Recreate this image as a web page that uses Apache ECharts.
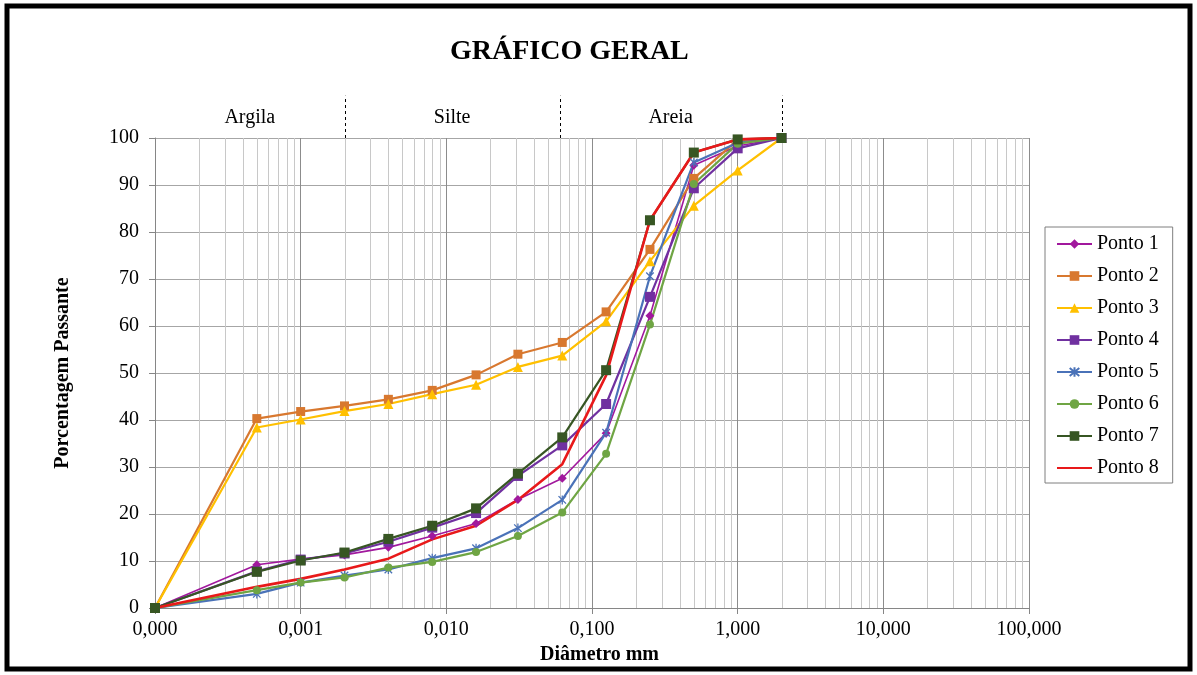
<!DOCTYPE html>
<html>
<head>
<meta charset="utf-8">
<title>Gráfico Geral</title>
<script src="https://cdn.jsdelivr.net/npm/echarts@6/dist/echarts.min.js"></script>
<style>
  html, body { margin: 0; padding: 0; background: #ffffff; }
  #chart { width: 1197px; height: 675px; }
</style>
</head>
<body>
<div id="chart"></div>
<script>
// Particle diameters (mm) of the grain-size analysis
const sizes = [0.0001, 0.0005, 0.001, 0.002, 0.004, 0.008, 0.016, 0.031, 0.0625, 0.125, 0.25, 0.5, 1, 2];

// Percentage passing for each sample point
const ponto1 = [0, 9.2, 10.4, 11.3, 12.9, 15.3, 18.0, 23.1, 27.6, 37.2, 62.2, 94.2, 98.3, 100];
const ponto2 = [0, 40.3, 41.8, 43.0, 44.4, 46.3, 49.6, 54.0, 56.5, 63.0, 76.3, 91.4, 99.6, 100];
const ponto3 = [0, 38.4, 40.1, 41.9, 43.4, 45.5, 47.5, 51.3, 53.7, 61.0, 73.8, 85.6, 93.1, 100];
const ponto4 = [0, 7.8, 10.3, 11.6, 14.1, 17.1, 20.2, 28.1, 34.6, 43.4, 66.2, 89.3, 97.8, 100];
const ponto5 = [0, 3.0, 5.4, 6.9, 8.2, 10.6, 12.7, 17.0, 23.0, 37.3, 70.6, 94.8, 99.0, 100];
const ponto6 = [0, 3.8, 5.4, 6.5, 8.6, 9.8, 11.9, 15.3, 20.3, 32.8, 60.3, 90.2, 98.8, 100];
const ponto7 = [0, 7.7, 10.1, 11.8, 14.7, 17.5, 21.2, 28.6, 36.3, 50.6, 82.5, 96.9, 99.7, 100];
const ponto8 = [0, 4.5, 6.2, 8.2, 10.5, 14.6, 17.5, 23.0, 30.6, 49.5, 82.5, 96.9, 99.7, 100];

const seriesNames = ['Ponto 1', 'Ponto 2', 'Ponto 3', 'Ponto 4', 'Ponto 5', 'Ponto 6', 'Ponto 7', 'Ponto 8'];

// Soil fraction limits (mm) and their names
const zoneBounds = [0.0001, 0.002, 0.06, 2];
const zoneNames = ['Argila', 'Silte', 'Areia'];

// Axis ranges
const xMin = 0.0001, xMax = 100;
const yMin = 0, yMax = 100, yStep = 10;

// Intermediate log gridlines (2..9 within each decade)
const minorGrid = [];
for (let e = -4; e < 2; e++) {
  for (let m = 2; m <= 9; m++) minorGrid.push(+(m * Math.pow(10, e)).toPrecision(3));
}

const serif = 'Liberation Serif, Times New Roman, serif';
const asterisk = 'path://M0,0L10,10M10,0L0,10M5,-1L5,11';

const styles = [
  { color: '#a1189d', symbol: 'diamond', size: 9, width: 1.6 },
  { color: '#d8782f', symbol: 'rect', size: 9, width: 2.2 },
  { color: '#ffc000', symbol: 'triangle', size: 10, width: 2.2 },
  { color: '#7030a0', symbol: 'rect', size: 10, width: 2.2 },
  { color: '#4a72b8', symbol: asterisk, size: 9, width: 2.2, stroke: true },
  { color: '#6fa544', symbol: 'circle', size: 8, width: 2.2 },
  { color: '#375623', symbol: 'rect', size: 10, width: 2.2 },
  { color: '#e8191a', symbol: 'none', size: 0, width: 2.6, plain: true }
];
const values = [ponto1, ponto2, ponto3, ponto4, ponto5, ponto6, ponto7, ponto8];

const dataSeries = values.map((vals, i) => {
  const s = styles[i];
  const item = s.stroke
    ? { color: s.color, borderColor: s.color, borderWidth: 1.3 }
    : { color: s.color, borderWidth: 0 };
  return {
    name: seriesNames[i],
    type: 'line',
    z: 3,
    data: sizes.map((d, k) => [d, vals[k]]),
    symbol: s.symbol,
    symbolSize: s.size,
    symbolKeepAspect: true,
    showSymbol: s.symbol !== 'none',
    lineStyle: { color: s.color, width: s.width },
    itemStyle: item,
    emphasis: { disabled: true },
    animation: false
  };
});

// Legend entries; a plain line series gets a line-only key
const legendData = seriesNames.map((n, i) => styles[i].plain
  ? { name: n, itemStyle: { color: 'rgba(0,0,0,0)', borderColor: 'rgba(0,0,0,0)', borderWidth: 0 } }
  : { name: n });

const chart = echarts.init(document.getElementById('chart'), null, { renderer: 'canvas' });

const crisp = v => Math.round(v) + 0.5;

const option = {
  animation: false,
  backgroundColor: '#ffffff',
  title: {
    text: 'GRÁFICO GERAL',
    left: 445,
    top: 33,
    textStyle: { fontFamily: serif, fontSize: 28, fontWeight: 'bold', color: '#000' }
  },
  grid: { left: 155, right: 168, top: 138, bottom: 67, containLabel: false },
  legend: {
    orient: 'vertical',
    left: 1045,
    top: 227,
    data: legendData,
    itemWidth: 35,
    itemHeight: 12,
    itemGap: 12,
    padding: [7, 14, 5, 11],
    borderColor: '#7f7f7f',
    borderWidth: 1,
    backgroundColor: '#ffffff',
    textStyle: { fontFamily: serif, fontSize: 20, color: '#000', lineHeight: 20 },
    selectedMode: false
  },
  xAxis: {
    type: 'log',
    logBase: 10,
    min: xMin,
    max: xMax,
    axisLine: { show: true, lineStyle: { color: '#868686', width: 1 } },
    axisTick: { show: true, length: 6, lineStyle: { color: '#868686' } },
    axisLabel: {
      margin: 12,
      fontFamily: serif,
      fontSize: 20,
      color: '#000',
      formatter: v => v.toFixed(3).replace('.', ',')
    },
    splitLine: { show: true, lineStyle: { color: '#8c8c8c', width: 1 } }
  },
  yAxis: {
    type: 'value',
    min: yMin,
    max: yMax,
    interval: yStep,
    name: 'Porcentagem Passante',
    nameLocation: 'middle',
    nameGap: 82,
    nameTextStyle: { fontFamily: serif, fontSize: 20, fontWeight: 'bold', color: '#000' },
    axisLine: { show: true, lineStyle: { color: '#868686', width: 1 } },
    axisTick: { show: true, length: 6, lineStyle: { color: '#868686' } },
    axisLabel: { margin: 16, fontFamily: serif, fontSize: 20, color: '#000' },
    splitLine: { show: true, lineStyle: { color: '#a6a6a6', width: 1 } }
  },
  graphic: [
    {
      type: 'rect',
      silent: true,
      shape: { x: 7, y: 6, width: 1183, height: 663 },
      style: { fill: 'none', stroke: '#000000', lineWidth: 5 },
      z: 100
    },
    {
      type: 'text',
      silent: true,
      left: 603 - 63,
      top: 645,
      style: { text: 'Diâmetro mm', font: 'bold 20px ' + serif, fill: '#000' }
    }
  ],
  series: [
    {
      // light intermediate gridlines of the log scale
      type: 'custom',
      silent: true,
      z: 1,
      animation: false,
      data: minorGrid.map(v => [v, 0]),
      renderItem: (params, api) => {
        const a = api.coord([api.value(0), yMin]);
        const b = api.coord([api.value(0), yMax]);
        const x = crisp(a[0]);
        return {
          type: 'line',
          shape: { x1: x, y1: a[1], x2: x, y2: b[1] },
          style: { stroke: '#c8c8c8', lineWidth: 1 }
        };
      }
    },
    {
      // dashed limits between soil fractions, above the plot
      type: 'custom',
      silent: true,
      z: 2,
      clip: false,
      animation: false,
      data: zoneBounds.slice(1).map(v => [v, yMax]),
      renderItem: (params, api) => {
        const a = api.coord([api.value(0), yMax]);
        const b = api.coord([api.value(0), yMax + 9]);
        const x = crisp(a[0]);
        return {
          type: 'line',
          shape: { x1: x, y1: a[1], x2: x, y2: b[1] },
          style: { stroke: '#000', lineWidth: 1, lineDash: [3, 3] }
        };
      }
    },
    {
      // fraction names, centred between the limits
      type: 'custom',
      silent: true,
      z: 2,
      clip: false,
      animation: false,
      data: zoneNames.map((n, i) => [Math.sqrt(zoneBounds[i] * zoneBounds[i + 1]), yMax]),
      renderItem: (params, api) => {
        const p = api.coord([api.value(0), yMax + 4.3]);
        return {
          type: 'text',
          x: p[0],
          y: p[1],
          style: {
            text: zoneNames[params.dataIndex],
            font: '20px ' + serif,
            fill: '#000',
            align: 'center',
            verticalAlign: 'middle'
          }
        };
      }
    }
  ].concat(dataSeries)
};

chart.setOption(option);
</script>
</body>
</html>
